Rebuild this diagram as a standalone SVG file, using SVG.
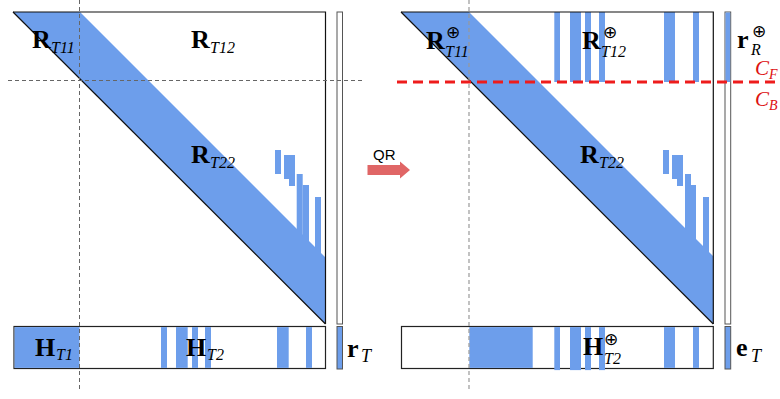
<svg xmlns="http://www.w3.org/2000/svg" width="780" height="399" viewBox="0 0 780 399">
<style>
.blue{fill:#6d9eeb}
.edge{stroke:#111;stroke-width:1.2;fill:none}
.vec{fill:#fff;stroke:#555;stroke-width:1}
.vecb{fill:#6d9eeb;stroke:#555;stroke-width:1}
.dash{stroke:#666;stroke-width:1;stroke-dasharray:4 3;fill:none}
.dash2{stroke:#999;stroke-width:1.2;stroke-dasharray:4 3;fill:none}
.big{font-family:"Liberation Serif",serif;font-weight:bold;font-size:26px;fill:#000}
.sub{font-family:"Liberation Serif",serif;font-style:italic;font-size:16px;fill:#000}
.sup{font-family:"DejaVu Sans",sans-serif;font-size:17px;fill:#000}
.cal{font-family:"Liberation Serif",serif;font-style:italic;font-size:21px;fill:#dd1111}
.calsub{font-family:"Liberation Serif",serif;font-style:italic;font-size:14px;fill:#dd1111}
</style>
<rect width="780" height="399" fill="#fff"/>

<g id="left-R">
<polygon class="blue" points="13,12 80,12 325.5,257.5 325.5,324"/>
<rect class="blue" x="275" y="150" width="6" height="24"/>
<rect class="blue" x="284" y="155" width="11" height="24"/>
<rect class="blue" x="289" y="178" width="6" height="8"/>
<rect class="blue" x="296.7" y="174" width="6" height="62"/>
<rect class="blue" x="302.7" y="185" width="6.3" height="59"/>
<rect class="blue" x="315" y="197" width="6" height="59"/>
<line class="edge" x1="13" y1="12" x2="325.5" y2="324"/>
<polyline class="edge" points="13,12 325.5,12 325.5,324"/>
<text class="big" x="32" y="48">R</text><text class="sub" x="51" y="53">T11</text>
<text class="big" x="191" y="48">R</text><text class="sub" x="210" y="53">T12</text>
<text class="big" x="191" y="163">R</text><text class="sub" x="210" y="168">T22</text>
</g>

<g id="left-H">
<rect x="14" y="326.5" width="311.5" height="42" fill="#fff" stroke="#222" stroke-width="1.2"/>
<rect class="blue" x="14.6" y="327.1" width="64.9" height="40.8"/>
<rect class="blue" x="161" y="327.1" width="6" height="40.8"/>
<rect class="blue" x="176" y="327.1" width="11.7" height="40.8"/>
<rect class="blue" x="192" y="327.1" width="6" height="40.8"/>
<rect class="blue" x="205" y="327.1" width="6" height="40.8"/>
<rect class="blue" x="277" y="327.1" width="11.7" height="40.8"/>
<rect class="blue" x="306" y="327.1" width="6" height="40.8"/>
<text class="big" x="35" y="356">H</text><text class="sub" x="56" y="360">T1</text>
<text class="big" x="186" y="356">H</text><text class="sub" x="207" y="360">T2</text>
</g>

<g id="left-r">
<rect class="vec" x="337" y="12" width="5.5" height="312"/>
<rect class="vecb" x="337" y="326.5" width="5.5" height="42.5"/>
<text class="big" x="347" y="357">r</text><text class="sub" x="361" y="362" style="font-size:18px">T</text>
</g>

<g id="left-guides">
<line class="dash" x1="79.5" y1="0" x2="79.5" y2="392"/>
<line class="dash" x1="8" y1="80.5" x2="365" y2="80.5"/>
</g>

<g id="connectors">
<polygon fill="#e06666" points="367.5,165 400,165 400,161.5 410,170 400,178.5 400,175 367.5,175"/>
<text x="373" y="160" font-family="Liberation Sans,Arial,sans-serif" font-size="15" fill="#000">QR</text>
</g>

<g id="right-R">
<polygon class="blue" points="401,12 469,12 713.3,256.3 713.3,324"/>
<rect class="blue" x="554.3" y="12" width="5.7" height="70"/>
<rect class="blue" x="570" y="12" width="11" height="70"/>
<rect class="blue" x="585" y="12" width="6" height="70"/>
<rect class="blue" x="599" y="12" width="6" height="70"/>
<rect class="blue" x="664" y="12" width="11" height="70"/>
<rect class="blue" x="693" y="12" width="6" height="70"/>
<rect class="blue" x="663" y="150" width="6" height="24"/>
<rect class="blue" x="672" y="155" width="11" height="24"/>
<rect class="blue" x="677" y="178" width="6" height="8"/>
<rect class="blue" x="685" y="174" width="6" height="62"/>
<rect class="blue" x="691" y="185" width="5" height="59"/>
<rect class="blue" x="703" y="197" width="6" height="59"/>
<line class="edge" x1="401" y1="12" x2="713.3" y2="324"/>
<polyline class="edge" points="401,12 713.3,12 713.3,324"/>
<text class="big" x="426" y="49">R</text><text class="sub" x="445" y="57">T11</text><text class="sup" x="446" y="38">⊕</text>
<text class="big" x="582" y="49">R</text><text class="sub" x="601" y="57">T12</text><text class="sup" x="603" y="38">⊕</text>
<text class="big" x="580" y="163">R</text><text class="sub" x="599" y="168">T22</text>
</g>

<g id="right-H">
<rect x="401.5" y="326.5" width="311.8" height="42" fill="#fff" stroke="#222" stroke-width="1.2"/>
<rect class="blue" x="469.3" y="327.1" width="63.4" height="40.8"/>
<rect class="blue" x="554.3" y="327.1" width="5.7" height="43"/>
<rect class="blue" x="570" y="327.1" width="11" height="43"/>
<rect class="blue" x="585" y="327.1" width="6" height="43"/>
<rect class="blue" x="599" y="327.1" width="6" height="43"/>
<rect class="blue" x="664" y="327.1" width="11" height="40.8"/>
<rect class="blue" x="693" y="327.1" width="6" height="40.8"/>
<text class="big" x="583" y="355">H</text><text class="sub" x="604" y="364">T2</text><text class="sup" x="604" y="345">⊕</text>
</g>

<g id="right-r">
<rect class="vec" x="725" y="12" width="5.7" height="312"/>
<rect class="blue" x="725.5" y="12.5" width="4.7" height="69.5"/>
<rect class="vecb" x="725" y="326.5" width="5.7" height="42.5"/>
<text class="big" x="737" y="48">r</text><text class="sub" x="751" y="55">R</text><text class="sup" x="752" y="37">⊕</text>
<text class="big" x="736" y="356">e</text><text class="sub" x="751" y="362" style="font-size:18px">T</text>
</g>

<g id="right-guides">
<line class="dash2" x1="469" y1="0" x2="469" y2="392"/>
<line x1="397" y1="82" x2="780" y2="82" stroke="#ee1c1c" stroke-width="3" stroke-dasharray="10 6"/>
<text class="cal" x="755" y="75">C</text><text class="calsub" x="769" y="79">F</text>
<text class="cal" x="755" y="106">C</text><text class="calsub" x="769" y="110">B</text>
</g>
</svg>
